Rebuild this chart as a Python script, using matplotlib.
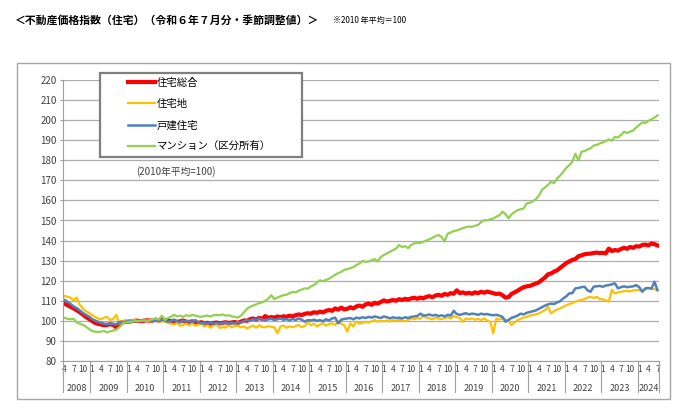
#!/usr/bin/env python3
import numpy as np
import matplotlib
matplotlib.use('Agg')
import matplotlib.pyplot as plt
from matplotlib.patches import Rectangle

plt.rcParams['font.family'] = ['Noto Sans CJK JP', 'DejaVu Sans']

# Monthly index values, Apr 2008 - Jul 2024 (2010 average = 100)
total = [
    108.5, 107.8, 107.0, 106.2, 105.3, 104.3, 103.2, 102.0, 101.0,               # 2008
    100.0, 99.0, 98.5, 98.2, 97.8, 98.0, 98.3, 98.0, 96.8, 98.8, 99.3, 99.5,     # 2009
    99.6, 99.8, 100.0, 100.1, 99.8, 100.0, 100.3, 100.1, 100.2, 100.5, 100.2, 100.4,
    100.5, 100.2, 99.8, 100.0, 99.5, 99.8, 100.2, 99.6, 99.4, 99.8, 99.2, 99.0,
    99.3, 98.8, 99.0, 98.6, 98.9, 99.2, 98.7, 99.0, 99.3, 98.9, 99.2, 99.4,
    99.0, 99.6, 100.2, 100.0, 100.8, 101.2, 100.6, 101.5, 101.0, 102.4, 101.5, 101.9,
    101.6, 102.2, 101.8, 102.3, 102.0, 102.6, 102.2, 102.8, 103.2, 102.9, 103.5, 103.8,
    103.6, 104.3, 104.0, 104.6, 104.2, 105.0, 105.4, 105.0, 106.2, 105.6, 106.6, 105.7,
    106.0, 106.8, 106.2, 107.2, 107.6, 107.0, 108.2, 108.6, 108.0, 109.0, 108.6, 109.4,
    110.2, 109.6, 110.0, 110.4, 110.0, 110.8, 110.4, 111.0, 110.6, 111.2, 111.5, 111.0,
    111.6, 111.2, 112.0, 112.3, 111.8, 112.6, 113.0, 112.5, 113.4, 113.0, 113.8, 113.5,
    115.2, 113.8, 114.2, 113.6, 114.0, 113.5, 114.2, 113.8, 114.5, 114.0, 114.6, 114.2,
    113.8, 113.4, 113.6, 112.8, 111.6, 111.8, 113.4, 114.2, 115.0, 116.0, 116.8, 117.2,
    117.4, 118.0, 118.6, 119.2, 120.4, 121.6, 123.2, 123.6, 124.5, 125.2, 126.4, 127.6,
    128.8, 129.6, 130.4, 130.8, 132.2, 132.6, 133.2, 133.4, 133.5, 133.8, 134.0, 133.8,
    133.9, 133.6, 136.0, 134.8, 135.3, 135.0, 135.8, 136.4, 135.9, 136.8, 136.4, 137.2,
    137.0, 137.8, 138.0, 137.6, 138.5, 138.2, 137.6,                             # 2024
]
land = [
    112.4, 112.0, 111.5, 110.2, 111.6, 108.0, 106.2, 104.8, 104.0,
    103.0, 102.0, 101.2, 100.8, 101.6, 102.0, 100.4, 101.0, 103.0, 98.7, 99.6, 100.4,
    99.8, 100.2, 100.6, 99.8, 100.4, 100.0, 100.4, 99.8, 100.2, 100.6, 99.6, 100.0,
    99.6, 99.0, 98.6, 98.2, 99.0, 97.6, 98.0, 98.6, 97.8, 98.8, 97.6, 98.2,
    98.4, 97.2, 98.0, 96.6, 97.6, 98.2, 96.4, 97.0, 96.6, 97.8, 96.8, 97.4,
    97.6, 96.8, 97.2, 96.2, 97.0, 97.6, 96.6, 97.8, 97.0, 96.8, 97.4, 97.0,
    96.8, 93.8, 97.2, 97.6, 96.6, 97.2, 96.8, 97.4, 98.0, 96.8, 97.4, 99.4,
    97.8, 98.6, 97.2, 98.2, 98.8, 97.6, 98.4, 98.8, 98.0, 99.6, 98.6, 97.8,
    94.6, 98.8, 97.2, 99.6, 98.6, 99.0, 99.6, 99.2, 99.8, 100.4, 99.6, 100.0,
    99.8, 100.2, 99.6, 100.4, 99.8, 100.6, 100.2, 99.8, 100.4, 101.2, 100.8, 101.4,
    101.0, 102.4, 101.6, 101.2, 100.8, 101.6, 101.2, 100.8, 101.4, 101.8, 101.2, 102.4,
    101.8, 101.4, 99.6, 101.2, 100.8, 101.2, 100.6, 101.0, 100.4, 101.2, 100.2, 99.6,
    93.8, 101.2, 100.6, 101.2, 100.8, 99.8, 97.9, 99.2, 100.4, 101.0, 101.6, 102.0,
    102.6, 103.0, 103.2, 103.7, 104.6, 105.4, 107.0, 103.7, 104.8, 105.6, 106.2, 107.0,
    107.8, 108.4, 108.8, 109.6, 110.0, 110.4, 110.8, 111.6, 112.0, 111.4, 112.0, 110.8,
    110.8, 110.2, 109.6, 115.4, 113.7, 114.2, 114.5, 114.8, 115.0, 114.6, 115.2, 115.3,
    115.3, 115.0, 115.6, 116.3, 116.0, 115.8, 115.3,
]
house = [
    110.4, 109.5, 108.4, 107.2, 106.4, 105.2, 104.0, 103.0, 102.2,
    101.0, 100.2, 99.6, 99.0, 98.6, 98.4, 98.6, 98.5, 98.2, 99.4, 99.0, 99.6,
    99.8, 99.6, 100.0, 99.8, 100.2, 99.9, 100.1, 100.4, 99.8, 100.3, 99.9, 100.5,
    100.2, 99.6, 99.9, 100.6, 99.8, 99.3, 100.2, 99.7, 99.9, 99.4, 100.4, 99.2,
    98.8, 99.0, 98.6, 99.2, 98.5, 99.0, 98.6, 98.8, 99.2, 98.6, 99.0, 98.7,
    99.4, 99.0, 99.8, 100.4, 100.0, 100.8, 100.4, 101.2, 100.6, 100.2, 100.8, 101.0,
    100.4, 100.8, 101.2, 100.5, 100.9, 100.2, 101.0, 100.4, 101.2, 100.6, 99.6, 100.4,
    100.2, 100.6, 100.0, 100.4, 99.8, 100.8, 100.2, 101.2, 101.6, 98.8, 100.6, 101.0,
    101.2, 101.4, 100.8, 101.6, 101.2, 101.8, 101.4, 102.0, 101.6, 102.2, 101.8, 101.4,
    102.2, 101.8, 101.2, 101.8, 101.4, 101.6, 101.2, 101.8, 101.4, 102.0, 102.2, 102.4,
    103.6, 102.6, 102.8, 103.2, 102.6, 103.0, 102.4, 102.8, 102.2, 103.0, 102.6, 105.0,
    103.4, 103.0, 103.4, 103.8, 103.2, 103.6, 103.4, 103.0, 103.6, 103.2, 103.4, 103.0,
    102.8, 103.0, 102.6, 102.0, 99.6, 100.4, 101.5, 102.0, 102.6, 103.6, 103.2, 104.0,
    104.4, 104.8, 105.2, 106.0, 106.8, 107.6, 108.2, 108.6, 108.4, 109.2, 109.8, 111.2,
    112.2, 113.7, 113.8, 116.2, 116.4, 116.8, 117.0, 115.2, 114.5, 117.0, 117.2, 117.4,
    117.0, 117.6, 117.8, 118.2, 118.7, 116.2, 116.8, 117.2, 116.8, 117.0, 117.2, 117.8,
    116.8, 114.5, 116.2, 116.4, 116.0, 119.5, 115.3,
]
condo = [
    101.5, 101.0, 100.8, 101.0, 99.2, 98.6, 98.0, 97.2, 96.0,
    95.0, 94.6, 94.5, 94.6, 95.0, 94.2, 94.8, 95.2, 95.6, 96.8, 98.4, 99.2,
    99.4, 99.6, 99.8, 100.0, 99.8, 100.2, 99.9, 100.3, 100.8, 101.2, 100.6, 102.6,
    100.4, 101.4, 102.0, 103.0, 102.2, 102.6, 102.0, 102.8, 102.4, 103.0, 102.6, 102.2,
    102.0, 102.4, 102.6, 102.2, 102.8, 103.0, 102.8, 103.2, 102.6, 102.8, 102.2, 102.0,
    101.6, 102.6, 104.2, 106.0, 107.0, 107.6, 108.2, 108.8, 109.2, 110.0, 111.0, 112.8,
    110.8, 111.6, 112.2, 112.8, 113.0, 113.8, 114.4, 114.2, 115.0, 115.6, 116.2, 116.0,
    117.2, 117.8, 119.0, 120.2, 119.8, 120.4, 121.0, 122.0, 123.0, 123.8, 124.4, 125.4,
    125.8, 126.2, 126.8, 127.8, 128.6, 129.8, 129.4, 129.6, 130.2, 130.8, 129.6, 131.8,
    132.8, 133.6, 134.4, 135.2, 136.0, 137.8, 136.8, 137.2, 136.2, 137.8, 138.6, 138.8,
    138.8, 139.4, 140.0, 140.6, 141.4, 142.2, 142.8, 141.8, 139.6, 143.4, 144.0, 144.8,
    145.0, 145.6, 146.2, 146.6, 147.0, 146.8, 147.4, 147.8, 149.2, 150.2, 150.0, 150.6,
    151.0, 151.9, 152.6, 154.4, 153.2, 151.1, 153.0, 154.2, 155.2, 155.6, 156.0, 158.6,
    158.8, 159.6, 160.6, 162.4, 165.2, 166.4, 167.8, 169.3, 168.6, 171.0, 172.4, 174.3,
    176.2, 177.6, 179.2, 183.3, 179.9, 184.3, 184.6, 185.4, 186.0, 187.4, 187.6, 188.4,
    188.9, 189.6, 190.4, 189.8, 191.6, 191.4, 192.6, 194.2, 193.6, 194.3, 194.8, 196.4,
    197.6, 198.9, 198.6, 199.6, 200.4, 201.2, 202.4,
]

series_names = ['住宅総合', '住宅地', '戸建住宅', 'マンション（区分所有）']
colors = ['#FF0000', '#FFC000', '#4F81BD', '#92D050']
widths = [3.0, 1.6, 1.8, 1.6]

years = list(range(2008, 2025))
first_month = 4   # data starts April 2008

fig = plt.figure(figsize=(6.89, 4.11), dpi=100)
ax = fig.add_axes([63/689, 1 - 361/411, 596/689, 281/411])

x = np.arange(len(total))
for vals, name, c, w in zip([total, land, house, condo], series_names, colors, widths):
    ax.plot(x, vals, color=c, lw=w, label=name, solid_joinstyle='round')

ax.set_xlim(-0.5, len(total) - 0.5)
ax.set_ylim(80, 220)
ax.set_yticks(range(80, 221, 10))
ax.grid(axis='y', color='#ADADAD', lw=0.9)
ax.set_axisbelow(True)
for s in ['top', 'right']:
    ax.spines[s].set_visible(False)
for s in ['left', 'bottom']:
    ax.spines[s].set_color('#A0A0A0')
ax.tick_params(axis='y', labelsize=7, labelcolor='#404040', color='#A0A0A0',
               length=2.5, width=0.8, pad=2)

# two-level category axis: month labels and year labels
tick_pos = x[::3]
tick_lab = [str((first_month - 1 + m) % 12 + 1) for m in tick_pos]
ax.set_xticks(tick_pos)
ax.set_xticklabels(tick_lab, fontsize=6, color='#404040')
ax.tick_params(axis='x', length=0, pad=3)

trans = ax.get_xaxis_transform()
bounds = [-0.5] + [8.5 + 12 * k for k in range(len(years) - 1)] + [len(total) - 0.5]
for b in bounds:
    ax.plot([b, b], [0, -0.112], transform=trans, color='#A0A0A0', lw=0.8, clip_on=False)
for yr, a, b in zip(years, bounds[:-1], bounds[1:]):
    ax.text((a + b) / 2, -0.097, str(yr), transform=trans, ha='center', va='center',
            fontsize=6.5, color='#404040')

# legend frame (drawn in the axes so the legend stays on top of it)
ax.add_patch(Rectangle((100/689, 1 - 157/411), 202/689, 84/411, transform=fig.transFigure,
                       facecolor='white', edgecolor='#7F7F7F', lw=1.6, zorder=4,
                       clip_on=False))
leg = ax.legend(loc='upper left', bbox_to_anchor=(128/689, 1 - 78/411),
                bbox_transform=fig.transFigure, frameon=False, fontsize=7.5,
                handlelength=2.6, handletextpad=0.15, labelspacing=1.05,
                borderpad=0, borderaxespad=0)
leg.set_zorder(5)

# note inside plot area
ax.add_patch(Rectangle((65/596, (361 - 179)/281), 120/596, 15/281, transform=ax.transAxes,
                       facecolor='white', edgecolor='none', zorder=2.5))
ax.text((176 - 63)/596, (361 - 171.5)/281, '(2010年平均=100)', transform=ax.transAxes,
        ha='center', va='center', fontsize=7, color='#404040', zorder=3)

# outer chart border
fig.add_artist(Rectangle((17/689, 1 - 399/411), 653/689, 336/411, transform=fig.transFigure,
                         facecolor='none', edgecolor='#A6A6A6', lw=1.0))

fig.text(15/689, 1 - 20/411, '＜不動産価格指数（住宅）（令和６年７月分・季節調整値）＞',
         fontsize=7.8, fontweight='bold', va='center', ha='left')
fig.text(333/689, 1 - 20/411, '※2010 年平均＝100', fontsize=5.8, va='center', ha='left')

fig.savefig('out.png', dpi=100)
